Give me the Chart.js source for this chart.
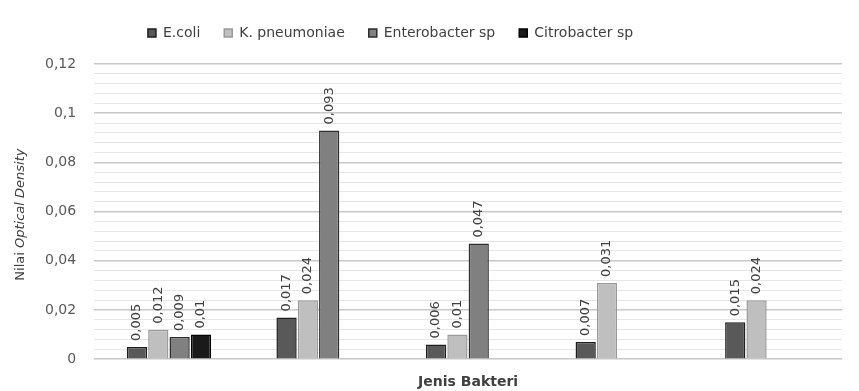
<!DOCTYPE html>
<html>
<head>
<meta charset="utf-8">
<script src="https://cdn.jsdelivr.net/npm/chart.js@4"></script>
<style>
  html, body { margin: 0; padding: 0; background: #fff; }
  #wrap { width: 859px; height: 391px; }
</style>
</head>
<body>
<div id="wrap"><canvas id="chartCanvas" width="859" height="391"></canvas></div>
<script>
// ---------- DATA ----------
const categories = ['1', '2', '3', '4', '5'];
const seriesNames = ['E.coli', 'K. pneumoniae', 'Enterobacter sp', 'Citrobacter sp'];
const ecoli = [0.005, 0.017, 0.006, 0.007, 0.015];
const kpneumoniae = [0.012, 0.024, 0.01, 0.031, 0.024];
const enterobacter = [0.009, 0.093, 0.047, null, null];
const citrobacter = [0.01, null, null, null, null];
const yTicks = [0, 0.02, 0.04, 0.06, 0.08, 0.1, 0.12];

const FONT = "'DejaVu Sans', sans-serif";

function fmt(v){
  return Number(v.toFixed(3)).toString().replace('.', ',');
}
function isMajor(v){
  return yTicks.some(t => Math.abs(t - v) < 1e-9);
}

// ---------- PLUGINS ----------
// value labels, rotated, above each bar
const valueLabels = {
  id: 'valueLabels',
  afterDatasetsDraw(chart){
    const ctx = chart.ctx;
    ctx.save();
    ctx.font = "13px " + FONT;
    ctx.fillStyle = '#404040';
    ctx.textAlign = 'left';
    ctx.textBaseline = 'middle';
    chart.data.datasets.forEach((ds, i) => {
      const meta = chart.getDatasetMeta(i);
      meta.data.forEach((bar, j) => {
        const v = ds.data[j];
        if (v === null || v === undefined) return;
        ctx.save();
        ctx.translate(bar.x, bar.y - 6);
        ctx.rotate(-Math.PI / 2);
        ctx.fillText(fmt(v), 0, 0);
        ctx.restore();
      });
    });
    ctx.restore();
  }
};

// y title with italic part
const yTitle = {
  id: 'yTitle',
  afterDraw(chart){
    const ctx = chart.ctx;
    const a = chart.chartArea;
    ctx.save();
    ctx.translate(21, (a.top + a.bottom) / 2 + 3);
    ctx.rotate(-Math.PI / 2);
    ctx.fillStyle = '#404040';
    ctx.textBaseline = 'middle';
    const p1 = 'Nilai ';
    const p2 = 'Optical Density';
    ctx.font = "13px " + FONT;
    const w1 = ctx.measureText(p1).width;
    ctx.font = "italic 13px " + FONT;
    const w2 = ctx.measureText(p2).width;
    let x = -(w1 + w2) / 2;
    ctx.font = "13px " + FONT;
    ctx.fillText(p1, x, 0);
    ctx.font = "italic 13px " + FONT;
    ctx.fillText(p2, x + w1, 0);
    ctx.restore();
  }
};

// extra room under the legend, and legend moved a bit left
const legendSpace = {
  id: 'legendSpace',
  beforeInit(chart){
    const fit = chart.legend.fit;
    chart.legend.fit = function(){
      fit.bind(chart.legend)();
      this.height += 14;
    };
  },
  afterLayout(chart){
    chart.legend.left -= 44;
    chart.legend.right -= 44;
  }
};

// ---------- CHART ----------
new Chart(document.getElementById('chartCanvas'), {
  type: 'bar',
  data: {
    labels: categories,
    datasets: [
      { label: seriesNames[0], data: ecoli, backgroundColor: '#595959', borderColor: '#1e1e1e', borderWidth: 1.5 },
      { label: seriesNames[1], data: kpneumoniae, backgroundColor: '#bfbfbf', borderColor: '#9a9a9a', borderWidth: 1.5 },
      { label: seriesNames[2], data: enterobacter, backgroundColor: '#808080', borderColor: '#2e2e2e', borderWidth: 1.5 },
      { label: seriesNames[3], data: citrobacter, backgroundColor: '#1a1a1a', borderColor: '#000000', borderWidth: 1.5 }
    ]
  },
  options: {
    responsive: false,
    animation: false,
    categoryPercentage: 0.57,
    barPercentage: 0.95,
    layout: { padding: { top: 2, left: 27, right: 17, bottom: 0 } },
    plugins: {
      legend: {
        position: 'top',
        labels: {
          boxWidth: 8, boxHeight: 8, padding: 24,
          color: '#404040',
          font: { family: FONT, size: 14 }
        }
      },
      tooltip: { enabled: false }
    },
    scales: {
      x: {
        grid: { display: false },
        border: { display: false },
        ticks: { display: false },
        title: {
          display: true, text: 'Jenis Bakteri', color: '#404040',
          font: { family: FONT, size: 14, weight: 'bold' },
          padding: { top: 7, bottom: 0 }
        }
      },
      y: {
        min: 0, max: 0.12,
        border: { display: false },
        grid: {
          drawTicks: false,
          color: c => isMajor(c.tick.value) ? '#c8c8c8' : '#e6e6e6',
          lineWidth: c => isMajor(c.tick.value) ? 1.5 : 1
        },
        ticks: {
          stepSize: 0.004,
          autoSkip: false,
          padding: 18,
          color: '#595959',
          font: { family: FONT, size: 14 },
          callback: v => isMajor(v) ? fmt(v) : ''
        }
      }
    }
  },
  plugins: [valueLabels, yTitle, legendSpace]
});
</script>
</body>
</html>
